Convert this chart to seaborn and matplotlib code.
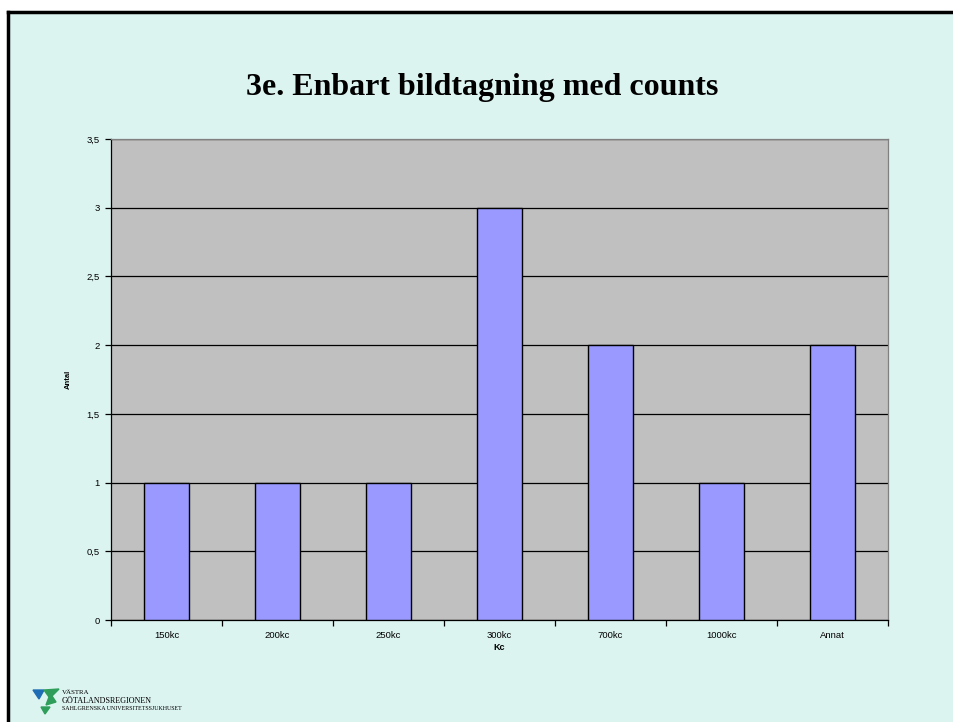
import matplotlib
matplotlib.use("Agg")
import matplotlib.pyplot as plt
import seaborn as sns
import pandas as pd
from matplotlib.patches import Rectangle, Polygon
from matplotlib.lines import Line2D
from matplotlib.ticker import FixedLocator

categories = ['150kc', '200kc', '250kc', '300kc', '700kc', '1000kc', 'Annat']
antal = [1, 1, 1, 3, 2, 1, 2]
y_ticks = [0, 0.5, 1, 1.5, 2, 2.5, 3, 3.5]
y_tick_labels = ['0', '0,5', '1', '1,5', '2', '2,5', '3', '3,5']

df = pd.DataFrame({'Kc': categories, 'Antal': antal})

W, H = 954, 722
fig = plt.figure(figsize=(W / 100, H / 100), dpi=100)
fig.patch.set_facecolor('white')

# slide background + frame
bg = '#DCF4F0'
fig.add_artist(Rectangle((8 / W, 0), 1, 1 - 12 / H, transform=fig.transFigure,
                         facecolor=bg, edgecolor='none', zorder=0))
fig.add_artist(Line2D([8 / W, 1], [1 - 12 / H, 1 - 12 / H], transform=fig.transFigure,
                      color='black', lw=2.5, zorder=1))
fig.add_artist(Line2D([8 / W, 8 / W], [0, 1 - 12 / H], transform=fig.transFigure,
                      color='black', lw=2.5, zorder=1))

ax = fig.add_axes([111 / W, 1 - 620 / H, (888 - 111) / W, (620 - 139) / H])
ax.set_facecolor('#C0C0C0')

sns.barplot(data=df, x='Kc', y='Antal', color='#9999FF', width=0.4,
            edgecolor='black', linewidth=1, saturation=1, ax=ax, zorder=3)

ax.set_ylim(0, 3.5)
ax.set_xlim(-0.5, len(categories) - 0.5)
ax.set_yticks(y_ticks)
ax.set_yticklabels(y_tick_labels, fontsize=6.8, family='Liberation Sans')
ax.yaxis.grid(True, color='black', lw=0.9, zorder=1)
ax.set_axisbelow(True)

ax.set_xticks(range(len(categories)))
ax.set_xticklabels(categories, fontsize=6.8, family='Liberation Sans')
ax.tick_params(axis='x', which='major', length=0, pad=8)
ax.xaxis.set_minor_locator(FixedLocator([i - 0.5 for i in range(len(categories) + 1)]))
ax.tick_params(axis='x', which='minor', length=4, direction='out', width=0.9)
ax.tick_params(axis='y', length=4, width=0.9, pad=4)

for side in ['top', 'right']:
    ax.spines[side].set_color('#808080')
    ax.spines[side].set_linewidth(0.9)
ax.spines['left'].set_linewidth(0.9)
ax.spines['bottom'].set_linewidth(0.9)

ax.set_xlabel('Kc', fontsize=6.5, weight='bold', family='Liberation Sans', labelpad=2)
ax.set_ylabel('Antal', fontsize=5.5, weight='bold', family='Liberation Sans', labelpad=11)

fig.text(482 / W, 1 - 88 / H, '3e. Enbart bildtagning med counts', ha='center', va='center',
         fontsize=23, weight='bold', family='Liberation Serif')

# logo
def fx(x):
    return x / W

def fy(y):
    return 1 - y / H

fig.add_artist(Polygon([(fx(33), fy(690)), (fx(44), fy(690)), (fx(39), fy(699))],
                       transform=fig.transFigure, color='#1F6DB5'))
fig.add_artist(Polygon([(fx(44), fy(690)), (fx(59), fy(689)), (fx(52), fy(696)), (fx(56), fy(702)), (fx(46), fy(705)), (fx(49), fy(697))],
                       transform=fig.transFigure, color='#2E9E5A'))
fig.add_artist(Polygon([(fx(41), fy(707)), (fx(50), fy(707)), (fx(45), fy(714))],
                       transform=fig.transFigure, color='#2E9E5A'))
fig.text(fx(62), fy(693), 'VÄSTRA', fontsize=5, family='Liberation Serif', va='center')
fig.text(fx(62), fy(701), 'GÖTALANDSREGIONEN', fontsize=5.9, family='Liberation Serif', va='center')
fig.text(fx(62), fy(709), 'SAHLGRENSKA UNIVERSITETSSJUKHUSET', fontsize=4.3, family='Liberation Serif', va='center')

fig.savefig('out.png', dpi=100, facecolor=fig.get_facecolor())
